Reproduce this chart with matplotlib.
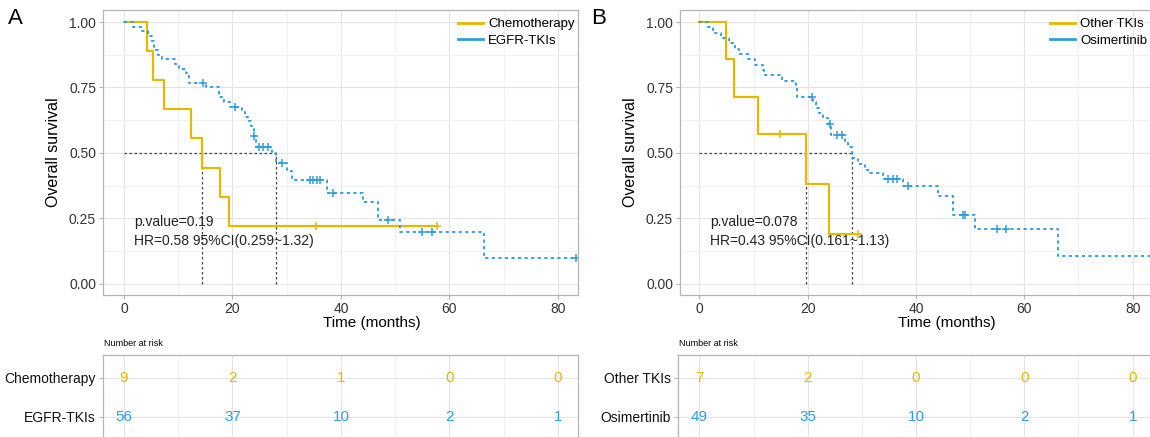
import numpy as np
import matplotlib
matplotlib.use("Agg")
import matplotlib.pyplot as plt
from matplotlib.ticker import MultipleLocator

plt.rcParams['font.family'] = ['Liberation Sans', 'DejaVu Sans']

W, H = 1150, 437
YELLOW = '#E7B800'
BLUE = '#2E9FDF'

# ---- panel A: Chemotherapy vs EGFR-TKIs ----
chemo_t = [0, 4.2, 5.3, 7.4, 12.35, 14.3, 17.7, 19.35]
chemo_s = [1.0, 0.889, 0.778, 0.667, 0.556, 0.444, 0.333, 0.222]
chemo_end = 57.7
chemo_cens = [35.4, 57.7]

egfr_t = [0, 1.7, 3.3, 4.5, 5.2, 5.5, 6.3, 7.0, 9.4, 10.2, 11.5, 11.9, 15.2,
          17.5, 18.5, 19.5, 21.7, 22.3, 23.0, 23.5, 24.0, 24.3, 27.3, 28.0,
          30.0, 31.0, 37.4, 44.1, 46.9, 50.9, 66.4]
egfr_s = [1.0, 0.982, 0.964, 0.946, 0.928, 0.893, 0.875, 0.857, 0.839, 0.821,
          0.804, 0.768, 0.750, 0.714, 0.696, 0.677, 0.658, 0.639, 0.620, 0.601,
          0.565, 0.524, 0.505, 0.462, 0.430, 0.397, 0.346, 0.312, 0.244, 0.197,
          0.100]
egfr_end = 83.4
egfr_cens = [14.6, 20.5, 24.0, 24.95, 25.7, 26.6, 29.1, 34.3, 34.9, 35.5, 36.1,
             38.6, 48.7, 54.9, 56.7, 83.4]

# ---- panel B: Other TKIs vs Osimertinib ----
other_t = [0, 5.0, 6.4, 10.9, 19.6, 24.0]
other_s = [1.0, 0.857, 0.714, 0.571, 0.381, 0.190]
other_end = 29.3
other_cens = [14.8, 29.3]

osi_t = [0, 1.5, 2.5, 3.9, 5.5, 6.5, 7.3, 9.0, 10.3, 11.7, 12.0, 15.2, 17.8,
         18.0, 21.0, 21.5, 22.0, 22.8, 23.8, 24.3, 26.8, 27.5, 28.1, 29.3, 30.5,
         31.5, 33.9, 37.6, 44.1, 46.9, 50.9, 66.2]
osi_s = [1.0, 0.980, 0.959, 0.939, 0.918, 0.898, 0.878, 0.857, 0.837, 0.816,
         0.796, 0.775, 0.755, 0.714, 0.694, 0.673, 0.653, 0.633, 0.612, 0.567,
         0.545, 0.524, 0.480, 0.458, 0.436, 0.423, 0.400, 0.374, 0.336, 0.261,
         0.209, 0.105]
osi_end = 86
osi_cens = [20.8, 24.1, 25.4, 26.3, 34.9, 35.8, 36.4, 38.6, 48.7, 49.0, 54.9, 56.7]

risk_times = [0, 20, 40, 60, 80]
risk_A = {'Chemotherapy': [9, 2, 1, 0, 0], 'EGFR-TKIs': [56, 37, 10, 2, 1]}
risk_B = {'Other TKIs': [7, 2, 0, 0, 0], 'Osimertinib': [49, 35, 10, 2, 1]}

stats_A = ['p.value=0.19', 'HR=0.58 95%CI(0.259~1.32)']
stats_B = ['p.value=0.078', 'HR=0.43 95%CI(0.161~1.13)']


def px_axes(fig, l, t, r, b):
    return fig.add_axes([l / W, 1 - b / H, (r - l) / W, (b - t) / H])


def style_panel(ax):
    ax.set_facecolor('white')
    for sp in ax.spines.values():
        sp.set_color('#b5b5b5')
        sp.set_linewidth(0.9)
    ax.grid(which='major', color='#e4e4e4', lw=0.8)
    ax.grid(which='minor', color='#efefef', lw=0.6)
    ax.set_axisbelow(True)
    ax.tick_params(which='major', length=3, color='#b5b5b5', labelsize=10,
                   labelcolor='#333333', pad=2)
    ax.tick_params(which='minor', length=0)


def draw_km(ax, t, s, t_end, cens, color, ls, lw):
    tt = list(t) + [t_end]
    ss = list(s) + [s[-1]]
    ax.step(tt, ss, where='post', color=color, ls=ls, lw=lw)
    cs = [s[np.searchsorted(t, c, side='right') - 1] for c in cens]
    ax.plot(cens, cs, '+', color=color, ms=6, mew=1.1, ls='none')


def median(t, s):
    for ti, si in zip(t, s):
        if si <= 0.5:
            return ti
    return None


def km_panel(fig, left, right, xlim, curves, labels, stats, letter, letter_x, leg_x):
    ax = px_axes(fig, left, 10, right, 295)
    style_panel(ax)
    ax.set_xlim(*xlim)
    ax.set_ylim(-0.043, 1.046)
    ax.xaxis.set_major_locator(MultipleLocator(20))
    ax.xaxis.set_minor_locator(MultipleLocator(10))
    ax.yaxis.set_major_locator(MultipleLocator(0.25))
    ax.yaxis.set_minor_locator(MultipleLocator(0.125))
    ax.yaxis.set_major_formatter(matplotlib.ticker.FormatStrFormatter('%.2f'))

    meds = [median(c[0], c[1]) for c in curves]
    ax.plot([0, max(meds)], [0.5, 0.5], color='#444444', lw=0.9, ls=(0, (2, 2)))
    for m in meds:
        ax.plot([m, m], [0, 0.5], color='#444444', lw=0.9, ls=(0, (2, 2)))

    draw_km(ax, *curves[0], YELLOW, '-', 1.6)
    draw_km(ax, *curves[1], BLUE, (0, (1.7, 1.8)), 1.35)

    ax.text(1.9, 0.235, stats[0], fontsize=10, va='center', color='#222222')
    ax.text(1.9, 0.165, stats[1], fontsize=10, va='center', color='#222222')

    ax.set_ylabel('Overall survival', fontsize=11.5, labelpad=6)
    ax.text(45.7, -0.15, 'Time (months)', fontsize=11, ha='center', va='center',
            transform=ax.transData)

    hs = [plt.Line2D([], [], color=YELLOW, lw=2),
          plt.Line2D([], [], color=BLUE, lw=2)]
    fig.legend(hs, labels, loc='upper left', bbox_to_anchor=(leg_x / W, 1 - 18 / H),
               frameon=False, fontsize=9.5, handlelength=1.9, handletextpad=0.4,
               labelspacing=0.35, borderpad=0, borderaxespad=0)
    fig.text(letter_x / W, 1 - 19 / H, letter, fontsize=16, va='center', ha='left')
    return ax


def risk_panel(fig, left, right, xlim, table):
    ax = px_axes(fig, left, 355, right, 455)
    style_panel(ax)
    ax.set_xlim(*xlim)
    ax.set_ylim(2.85, 0.15)
    ax.set_xticks(risk_times)
    ax.xaxis.set_minor_locator(MultipleLocator(10))
    ax.tick_params(axis='x', length=0, labelbottom=False)
    names = list(table.keys())
    rows = [0.77, 1.82]
    ax.set_yticks(rows)
    ax.set_yticklabels(names, fontsize=10, color='#111111')
    ax.tick_params(axis='y', length=3)
    cols = [YELLOW, BLUE]
    for i, name in enumerate(names):
        for t, n in zip(risk_times, table[name]):
            ax.text(t, rows[i], str(n), color=cols[i], fontsize=11,
                    ha='center', va='center')
    fig.text((left + 1) / W, 1 - 344 / H, 'Number at risk', fontsize=6.5,
             va='center', ha='left')
    return ax


fig = plt.figure(figsize=(W / 100, H / 100), dpi=100)

km_panel(fig, 103, 578, (-3.87, 83.69),
         [(chemo_t, chemo_s, chemo_end, chemo_cens), (egfr_t, egfr_s, egfr_end, egfr_cens)],
         ['Chemotherapy', 'EGFR-TKIs'], stats_A, 'A', 8, 458)
risk_panel(fig, 103, 578, (-3.87, 83.69), risk_A)

km_panel(fig, 680, 1153, (-3.58, 83.76),
         [(other_t, other_s, other_end, other_cens), (osi_t, osi_s, osi_end, osi_cens)],
         ['Other TKIs', 'Osimertinib'], stats_B, 'B', 591, 1050)
risk_panel(fig, 678, 1153, (-3.95, 83.76), risk_B)

fig.savefig('out.png', dpi=100)
